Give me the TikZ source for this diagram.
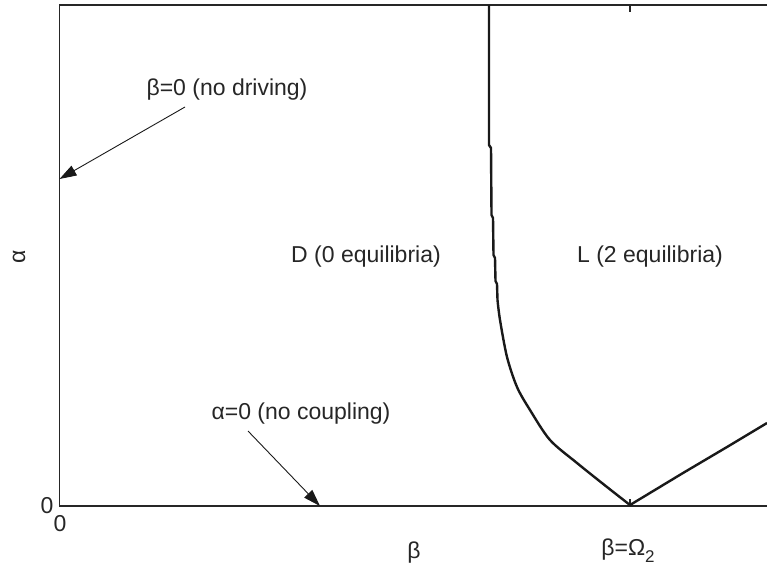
\documentclass[tikz,border=0pt]{standalone}
\usepackage{fontspec}
\setmainfont{Liberation Sans}
\usetikzlibrary{arrows.meta}
\begin{document}
\begin{tikzpicture}[x=1pt,y=-1pt,
  lbl/.style={font=\fontsize{23}{27}\selectfont, inner sep=0pt, text=black!85},
  axisline/.style={line width=1.4pt, draw=black!85},
  curveline/.style={line width=2.4pt, draw=black!90, line join=round},
  arr/.style={line width=0.9pt, draw=black!90, -{Triangle[length=17pt,width=11pt]}}]
\useasboundingbox (0,0) rectangle (767,568);
% axes
\draw[axisline] (767,5) -- (59.5,5) -- (59.5,506) -- (767,506);
\draw[axisline] (630,5) -- (630,12);
\draw[axisline] (630,506) -- (630,499);
% boundary curve
\draw[curveline] (489,5) -- (489,145) -- (491,148) -- (491.5,215) -- (493,218)
  -- (493.5,255) -- (495,258) -- (495.5,281) -- (497,284) -- (497.5,300)
  -- plot[smooth, tension=0.5] coordinates {(497.5,300) (500,320) (507,357) (517,387) (530,410) (550,440) (577,463) (607,487) (630,505)}
  -- (683,473) -- (727,447) -- (767,423);
% labels
\node[lbl] (nodriving) at (227,90) {β=0 (no driving)};
\node[lbl] (nocoupling) at (301,414) {α=0 (no coupling)};
\node[lbl] (dreg) at (366,257) {D (0 equilibria)};
\node[lbl] (lreg) at (650,257) {L (2 equilibria)};
\node[lbl, rotate=90] (ylab) at (19,257) {α};
\node[lbl] (xlab) at (414,553) {β};
\node[lbl] (omega) at (628,551) {β=Ω\raisebox{-7pt}{\fontsize{17}{17}\selectfont 2}};
\node[lbl] (yzero) at (47,506) {0};
\node[lbl] (xzero) at (60,524) {0};
% arrows
\coordinate (a1s) at (185,107);
\coordinate (a1e) at (59.5,179);
\coordinate (a2s) at (248,431);
\coordinate (a2e) at (320,506);
\draw[arr] (a1s) -- (a1e);
\draw[arr] (a2s) -- (a2e);
\end{tikzpicture}
\end{document}
